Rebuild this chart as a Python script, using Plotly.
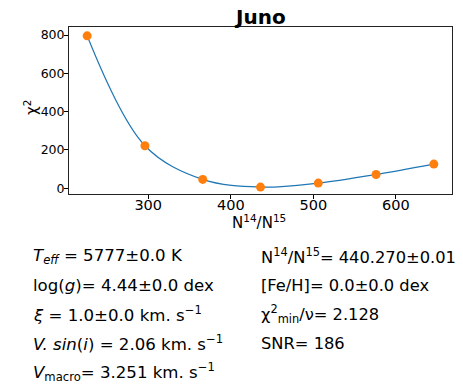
import plotly.graph_objects as go

# Data
ratio = [226, 296, 366, 436, 506, 576, 646]
chi2 = [796, 222, 46, 6, 27, 72, 126]
x_ticks = [300, 400, 500, 600]
y_ticks = [0, 200, 400, 600, 800]

title = "Juno"
left_lines = [
    "<i>T</i><sub><i>eff</i></sub> = 5777±0.0 K",
    "log(<i>g</i>)= 4.44±0.0 dex",
    "<i>ξ</i> = 1.0±0.0 km. s<sup>−1</sup>",
    "<i>V. sin</i>(<i>i</i>) = 2.06 km. s<sup>−1</sup>",
    "<i>V</i><sub>macro</sub>= 3.251 km. s<sup>−1</sup>",
]
right_lines = [
    "N<sup>14</sup>/N<sup>15</sup>= 440.270±0.01",
    "[Fe/H]= 0.0±0.0 dex",
    "χ<sup>2</sup><sub>min</sub>/ν= 2.128",
    "SNR= 186",
]

# The page body has an 8px margin, so the figure is shrunk and shifted by it.
OFF = 8
W, H = 463 - OFF, 392 - OFF
L, R, T, B = 69 - OFF, 452 - OFF, 27 - OFF, 194 - OFF
FONT = "DejaVu Sans"


def px(x):
    return (x - OFF - L) / (R - L)


def py(y):
    return (B - (y - OFF)) / (B - T)


fig = go.Figure()
fig.add_trace(go.Scatter(x=ratio, y=chi2, mode="lines",
                         line=dict(color="#1f77b4", width=1.2, shape="spline", smoothing=1.0),
                         hoverinfo="skip", showlegend=False))
fig.add_trace(go.Scatter(x=ratio, y=chi2, mode="markers",
                         marker=dict(color="#ff7f0e", size=9),
                         showlegend=False))

ann = []
ann.append(dict(text="<b>" + title + "</b>", x=px(260), y=py(17), xref="paper", yref="paper",
                showarrow=False, font=dict(family=FONT, size=20, color="black"),
                xanchor="center", yanchor="middle", borderpad=0))
ann.append(dict(text="N<sup>14</sup>/N<sup>15</sup>", x=px(259), y=py(222), xref="paper", yref="paper",
                showarrow=False, font=dict(family=FONT, size=15, color="black"),
                xanchor="center", yanchor="middle"))
ann.append(dict(text="χ<sup>2</sup>", x=px(31), y=py(108), xref="paper", yref="paper",
                showarrow=False, textangle=-90, font=dict(family=FONT, size=15, color="black"),
                xanchor="center", yanchor="middle"))

row_y = [256, 285, 314, 343, 372]
for i, t in enumerate(left_lines):
    ann.append(dict(text=t, x=px(31), y=py(row_y[i]), xref="paper", yref="paper",
                    showarrow=False, font=dict(family=FONT, size=16.6, color="black"),
                    xanchor="left", yanchor="middle"))
for i, t in enumerate(right_lines):
    ann.append(dict(text=t, x=px(259), y=py(row_y[i]), xref="paper", yref="paper",
                    showarrow=False, font=dict(family=FONT, size=16.3, color="black"),
                    xanchor="left", yanchor="middle"))

fig.update_layout(
    width=W, height=H,
    margin=dict(l=L, r=W - R, t=T, b=H - B, pad=0),
    paper_bgcolor="white", plot_bgcolor="white",
    annotations=ann,
    font=dict(family=FONT, color="black"),
)
fig.update_xaxes(range=[204, 668], tickvals=x_ticks, ticks="outside", ticklen=4, tickcolor="black",
                 showgrid=False, zeroline=False, showline=True, linecolor="#222", linewidth=1, mirror=True,
                 ticklabelstandoff=-6,
                 tickfont=dict(family=FONT, size=14.5, color="black"))
fig.update_yaxes(range=[-30, 842], tickvals=y_ticks, ticks="outside", ticklen=4, tickcolor="black",
                 showgrid=False, zeroline=False, showline=True, linecolor="#222", linewidth=1, mirror=True,
                 ticklabelstandoff=-3,
                 tickfont=dict(family=FONT, size=12.5, color="black"))

fig.write_html("out.html")
